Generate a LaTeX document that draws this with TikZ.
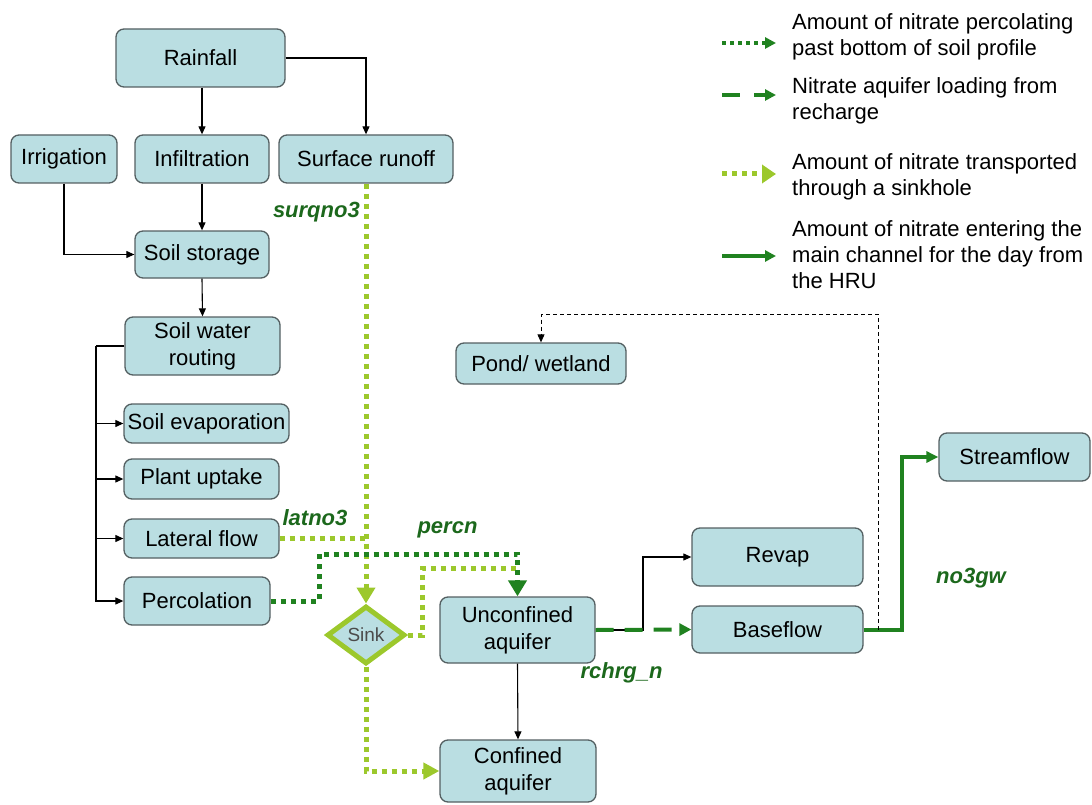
\documentclass[tikz,border=0pt]{standalone}
\usepackage{fontspec}
\setmainfont{Liberation Sans}
\usetikzlibrary{arrows.meta,shapes.geometric}
\definecolor{boxfill}{RGB}{186,222,226}
\definecolor{boxline}{RGB}{84,96,98}
\definecolor{nitro}{RGB}{32,130,32}
\definecolor{labgreen}{RGB}{28,104,28}
\definecolor{lime}{RGB}{156,200,44}
\definecolor{sinktext}{RGB}{75,75,75}

\begin{document}
\begin{tikzpicture}[x=1pt,y=-1pt,
  box/.style={draw=boxline, line width=1.3pt, fill=boxfill, rounded corners=8pt,
    inner sep=0pt, align=center, font=\fontsize{22}{27}\selectfont},
  flow/.style={draw=black, line width=1.1pt, -{Triangle[length=8pt,width=7pt]}},
  percline/.style={draw=nitro, line width=5pt, dash pattern=on 5pt off 5pt},
  sinkline/.style={draw=lime, line width=5pt, dash pattern=on 5pt off 5pt},
  rechline/.style={draw=nitro, line width=4pt, dash pattern=on 18pt off 11pt},
  chanline/.style={draw=nitro, line width=4pt},
  pondline/.style={draw=black, line width=0.9pt, dash pattern=on 4pt off 3pt,
    -{Triangle[length=8pt,width=7pt]}},
  qlabel/.style={text=labgreen, inner sep=0pt, font=\fontsize{22}{22}\selectfont\bfseries\itshape},
  legtext/.style={inner sep=0pt, align=left, anchor=west, font=\fontsize{22}{26}\selectfont}]

\useasboundingbox (0,0) rectangle (1092,805);

% ---------- land phase boxes ----------
\node[box, minimum width=169pt, minimum height=58pt] (rain)  at (200.5,58)  {Rainfall};
\node[box, minimum width=106pt, minimum height=48pt] (irr)   at (64,159)    {Irrigation};
\node[box, minimum width=134pt, minimum height=48pt] (inf)   at (202,159)   {Infiltration};
\node[box, minimum width=174pt, minimum height=48pt] (surf)  at (366,159)   {Surface runoff};
\node[box, minimum width=134pt, minimum height=47pt] (stor)  at (202,254.5) {Soil storage};
\node[box, minimum width=155pt, minimum height=58pt] (swr)   at (202.5,346) {Soil water\\routing};
\node[box, minimum width=165pt, minimum height=39pt] (evap)  at (206.5,423.5) {Soil evaporation};
\node[box, minimum width=155pt, minimum height=40pt] (plant) at (201.5,479) {Plant uptake};
\node[box, minimum width=155pt, minimum height=39pt] (lat)   at (201.5,538.5) {Lateral flow};
\node[box, minimum width=146pt, minimum height=48pt] (perc)  at (197,601)   {Percolation};

% ---------- groundwater and channel boxes ----------
\node[box, minimum width=170pt, minimum height=41pt] (pond)   at (541,363.5)  {Pond/ wetland};
\node[box, minimum width=155pt, minimum height=66pt] (unc)    at (517.5,630)  {Unconfined\\aquifer};
\node[box, minimum width=156pt, minimum height=62pt] (conf)   at (518,771)    {Confined\\aquifer};
\node[box, minimum width=171pt, minimum height=58pt] (revap)  at (777.5,557)  {Revap};
\node[box, minimum width=171pt, minimum height=47pt] (base)   at (777.5,629.5) {Baseflow};
\node[box, minimum width=151pt, minimum height=48pt] (stream) at (1014.5,457) {Streamflow};

\node[diamond, draw=lime, line width=5pt, fill=boxfill, minimum width=78pt,
      minimum height=58pt, inner sep=0pt, text=sinktext,
      font=\fontsize{19}{19}\selectfont] (sink) at (366,635) {Sink};

% ---------- water routing (black) ----------
\draw[flow] (rain.south -| inf.north) -- (inf.north);
\draw[flow] (rain.east) -| (surf.north);
\draw[flow] (irr.south) |- (stor.west);
\draw[flow] (inf.south) -- (stor.north);
\draw[flow] (stor.south) -- (swr.north);
\coordinate (bus) at (96,346);
\draw[line width=1.1pt] (swr.west) -- (bus);
\draw[flow] (bus) |- (perc.west);
\draw[flow] (bus |- evap.west) -- (evap.west);
\draw[flow] (bus |- plant.west) -- (plant.west);
\draw[flow] (bus |- lat.west) -- (lat.west);
\draw[flow] (unc.south) -- (conf.north);
\coordinate (rvj) at (643,630);
\draw[flow] (unc.east) -- (rvj) |- (revap.west);

% ---------- nitrate pathways ----------
% surface runoff and lateral flow into the sinkhole
\draw[sinkline, -{Triangle[length=16pt,width=18pt]}] (surf.south) -- (sink.north);
\draw[sinkline] (lat.east) -- (lat.east -| sink.north);
% percolation to the shallow aquifer
\coordinate (pj1) at (319,554);
\draw[sinkline] (sink.east) -| (422,568) coordinate (sj) -- (sj -| unc.north);
\draw[percline, -{Triangle[length=16pt,width=18pt]}] (perc.east) -| (pj1) -| (unc.north);
% sinkhole to deep aquifer
\draw[sinkline, -{Triangle[length=16pt,width=16pt]}] (sink.south) |- (conf.west);
% recharge loading to baseflow
\draw[rechline, -{Triangle[length=12pt,width=12pt]}] (unc.east) -- (base.west);
% baseflow to the main channel
\coordinate (cj) at (902,629.5);
\draw[chanline, -{Triangle[length=12pt,width=11pt]}] (base.east) -- (cj) |- (stream.west);
% baseflow return to pond / wetland
\coordinate (pr) at (878,314);
\draw[pondline] (pr |- base.east) -- (pr) -| (pond.north);

% ---------- variable names ----------
\node[qlabel, anchor=east] (lsurq) at (360,212)   {surqno3};
\node[qlabel]              (llat)  at (315,518)   {latno3};
\node[qlabel]              (lperc) at (447.5,530) {percn};
\node[qlabel]              (lrch)  at (621.5,673) {rchrg\_n};
\node[qlabel]              (lgw)   at (971,578)   {no3gw};

% ---------- legend ----------
\coordinate (la1) at (722,43);  \coordinate (lb1) at (776,43);
\coordinate (la2) at (722,95);  \coordinate (lb2) at (776,95);
\coordinate (la3) at (722,174); \coordinate (lb3) at (776,174);
\coordinate (la4) at (722,256); \coordinate (lb4) at (776,256);
\draw[draw=nitro, line width=4pt, dash pattern=on 4pt off 4pt,
      -{Triangle[length=11pt,width=11pt]}] (la1) -- (lb1);
\draw[draw=nitro, line width=4pt, dash pattern=on 18pt off 14pt,
      -{Triangle[length=11pt,width=11pt]}] (la2) -- (lb2);
\draw[draw=lime, line width=5pt, dash pattern=on 5pt off 5pt,
      -{Triangle[length=14pt,width=18pt]}] (la3) -- (lb3);
\draw[draw=nitro, line width=4pt,
      -{Triangle[length=11pt,width=11pt]}] (la4) -- (lb4);
\node[legtext] (lt1) at (792,37)  {Amount of nitrate percolating\\past bottom of soil profile};
\node[legtext] (lt2) at (792,101) {Nitrate aquifer loading from\\recharge};
\node[legtext] (lt3) at (792,177) {Amount of nitrate transported\\through a sinkhole};
\node[legtext] (lt4) at (792,255) {Amount of nitrate entering the\\main channel for the day from\\the HRU};
\end{tikzpicture}
\end{document}
